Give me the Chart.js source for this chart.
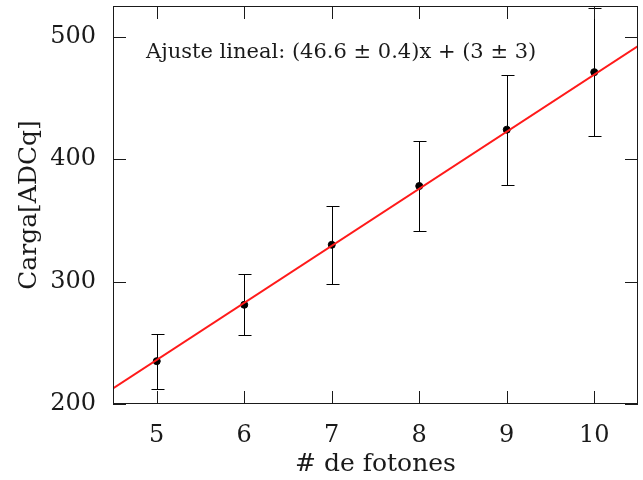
<!DOCTYPE html>
<html>
<head>
<meta charset="utf-8">
<script src="https://cdn.jsdelivr.net/npm/chart.js@4.4.1/dist/chart.umd.min.js"></script>
<style>
  html, body { margin: 0; padding: 0; background: #fff; }
  #wrap { width: 643px; height: 480px; }
</style>
</head>
<body>
<div id="wrap"><canvas id="myChart" width="643" height="480"></canvas></div>
<script>
// datos
const fotones = [5, 6, 7, 8, 9, 10];
const carga = [235, 281, 330, 378, 424, 471];
const errCarga = [22.5, 25, 32, 37, 45, 52];
// recta de ajuste (extremos del rango)
const fitX = [4.5, 10.5];
const fitY = [212.7, 492.3];
const xTicks = [5, 6, 7, 8, 9, 10];
const yTicks = [200, 300, 400, 500];
const fitLabel = 'Ajuste lineal: (46.6 ± 0.4)x + (3 ± 3)';

const serif = "'DejaVu Serif', 'Liberation Serif', serif";
const ink = '#1a1a1a';

// barras de error, marco y marcas hacia dentro
const extras = {
  id: 'extras',
  beforeDatasetsDraw(chart) {
    const ctx = chart.ctx, x = chart.scales.x, y = chart.scales.y;
    ctx.save();
    ctx.strokeStyle = '#000';
    ctx.lineWidth = 1;
    for (let i = 0; i < fotones.length; i++) {
      const px = Math.round(x.getPixelForValue(fotones[i])) + 0.5;
      const top = Math.round(y.getPixelForValue(carga[i] + errCarga[i])) + 0.5;
      const bot = Math.round(y.getPixelForValue(carga[i] - errCarga[i])) + 0.5;
      ctx.beginPath();
      ctx.moveTo(px, top); ctx.lineTo(px, bot);
      ctx.moveTo(px - 6, top); ctx.lineTo(px + 7, top);
      ctx.moveTo(px - 6, bot); ctx.lineTo(px + 7, bot);
      ctx.stroke();
    }
    ctx.restore();
  },
  afterDraw(chart) {
    const ctx = chart.ctx, a = chart.chartArea, x = chart.scales.x, y = chart.scales.y;
    const tl = 13;
    ctx.save();
    ctx.strokeStyle = ink;
    ctx.lineWidth = 1;
    ctx.beginPath();
    xTicks.forEach(v => {
      const px = Math.round(x.getPixelForValue(v)) + 0.5;
      ctx.moveTo(px, a.bottom); ctx.lineTo(px, a.bottom - tl);
      ctx.moveTo(px, a.top); ctx.lineTo(px, a.top + tl);
    });
    yTicks.forEach(v => {
      const py = Math.round(y.getPixelForValue(v)) + 0.5;
      ctx.moveTo(a.left, py); ctx.lineTo(a.left + tl, py);
      ctx.moveTo(a.right, py); ctx.lineTo(a.right - tl, py);
    });
    ctx.stroke();
    ctx.strokeRect(Math.round(a.left) + 0.5, Math.round(a.top) + 0.5,
      Math.round(a.right - a.left) - 1, Math.round(a.bottom - a.top) - 1);
    // etiqueta del ajuste
    ctx.fillStyle = ink;
    ctx.font = '21px ' + serif;
    ctx.textBaseline = 'middle';
    ctx.textAlign = 'left';
    ctx.fillText(fitLabel, a.left + 33, a.top + 47);
    ctx.restore();
  }
};

const ctx = document.getElementById('myChart').getContext('2d');
const chart = new Chart(ctx, {
  type: 'scatter',
  data: {
    datasets: [
      {
        type: 'line',
        label: 'ajuste',
        data: fitX.map((v, i) => ({ x: v, y: fitY[i] })),
        borderColor: '#ff1a1a',
        borderWidth: 2,
        pointRadius: 0,
        fill: false,
        order: 0
      },
      {
        label: 'datos',
        data: fotones.map((v, i) => ({ x: v, y: carga[i] })),
        backgroundColor: '#000',
        borderColor: '#000',
        pointRadius: 3.5,
        order: 1
      }
    ]
  },
  options: {
    responsive: false,
    animation: false,
    layout: { padding: { top: 6, right: 5, left: 0, bottom: 0 } },
    plugins: { legend: { display: false }, tooltip: { enabled: false } },
    scales: {
      x: {
        type: 'linear',
        min: 4.5,
        max: 10.5,
        afterBuildTicks: s => { s.ticks = xTicks.map(v => ({ value: v })); },
        afterFit: s => { s.height = 76; s.paddingLeft = 0; s.paddingRight = 0; },
        grid: { display: false, drawTicks: false },
        border: { display: false },
        ticks: { color: ink, padding: 17, font: { family: serif, size: 24 }, maxRotation: 0 },
        title: { display: true, text: '# de fotones', color: ink,
                 font: { family: serif, size: 25 }, padding: { top: 0, bottom: 1 } }
      },
      y: {
        type: 'linear',
        min: 200,
        max: 525,
        afterBuildTicks: s => { s.ticks = yTicks.map(v => ({ value: v })); },
        afterFit: s => { s.width = 113; s.paddingTop = 0; s.paddingBottom = 0; },
        grid: { display: false, drawTicks: false },
        border: { display: false },
        ticks: { color: ink, padding: 17, font: { family: serif, size: 24 } },
        title: { display: true, text: 'Carga[ADCq]', color: ink,
                 font: { family: serif, size: 25 }, padding: { top: 14, bottom: 0 } }
      }
    }
  },
  plugins: [extras]
});
</script>
</body>
</html>
